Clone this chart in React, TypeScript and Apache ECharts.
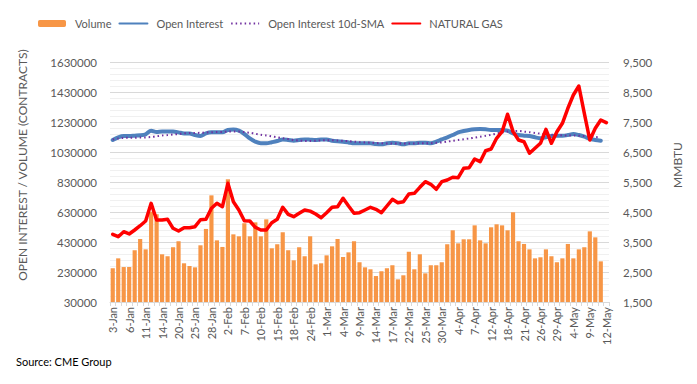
import React, { useEffect, useRef } from "react";
import * as echarts from "echarts";

const dates = [
  "3-Jan","4-Jan","5-Jan","6-Jan","7-Jan","10-Jan","11-Jan","12-Jan","13-Jan","14-Jan","18-Jan","19-Jan","20-Jan","21-Jan","24-Jan","25-Jan","26-Jan","27-Jan","28-Jan","31-Jan",
  "1-Feb","2-Feb","3-Feb","4-Feb","7-Feb","8-Feb","9-Feb","10-Feb","11-Feb","14-Feb","15-Feb","16-Feb","17-Feb","18-Feb","22-Feb","23-Feb","24-Feb","25-Feb","28-Feb",
  "1-Mar","2-Mar","3-Mar","4-Mar","7-Mar","8-Mar","9-Mar","10-Mar","11-Mar","14-Mar","15-Mar","16-Mar","17-Mar","18-Mar","21-Mar","22-Mar","23-Mar","24-Mar","25-Mar","28-Mar","29-Mar","30-Mar","31-Mar",
  "1-Apr","4-Apr","5-Apr","6-Apr","7-Apr","8-Apr","11-Apr","12-Apr","13-Apr","14-Apr","18-Apr","19-Apr","20-Apr","21-Apr","22-Apr","25-Apr","26-Apr","27-Apr","28-Apr","29-Apr",
  "2-May","3-May","4-May","5-May","6-May","9-May","10-May","11-May","12-May"
];

const volume = [
  255000, 321000, 263000, 263000, 375000, 450000, 381000, 632000, 615000, 348000,
  335000, 395000, 435000, 288000, 270000, 261000, 408000, 517000, 741000, 441000,
  397000, 848000, 481000, 468000, 555000, 468000, 561000, 468000, 581000, 388000,
  415000, 495000, 375000, 308000, 395000, 335000, 468000, 281000, 288000, 341000,
  401000, 450000, 330000, 361000, 435000, 295000, 261000, 248000, 203000, 235000,
  255000, 275000, 181000, 208000, 365000, 248000, 348000, 221000, 275000, 275000,
  295000, 415000, 508000, 421000, 448000, 448000, 541000, 441000, 421000, 528000,
  548000, 541000, 508000, 628000, 435000, 417000, 381000, 321000, 328000, 381000,
  335000, 295000, 321000, 417000, 321000, 381000, 395000, 501000, 461000, 301000,
  null
];

const openInterest = [
  1110000, 1128000, 1137000, 1137000, 1139000, 1141000, 1148000, 1172000, 1163000, 1166000,
  1166000, 1166000, 1161000, 1154000, 1154000, 1143000, 1137000, 1154000, 1161000, 1161000,
  1161000, 1177000, 1180000, 1172000, 1150000, 1121000, 1099000, 1088000, 1088000, 1095000,
  1103000, 1114000, 1110000, 1105000, 1110000, 1114000, 1112000, 1110000, 1114000, 1114000,
  1105000, 1101000, 1099000, 1094000, 1088000, 1088000, 1088000, 1088000, 1083000, 1081000,
  1088000, 1092000, 1088000, 1081000, 1088000, 1088000, 1092000, 1092000, 1088000, 1099000,
  1114000, 1128000, 1143000, 1161000, 1170000, 1177000, 1181000, 1183000, 1181000, 1177000,
  1177000, 1177000, 1172000, 1154000, 1143000, 1139000, 1137000, 1128000, 1121000, 1128000,
  1137000, 1139000, 1139000, 1143000, 1150000, 1143000, 1132000, 1117000, 1110000, 1105000,
  null
];

const openInterestSma = [
  1114000, 1120000, 1124000, 1125000, 1125000, 1126000, 1127000, 1130000, 1135000, 1140000,
  1143000, 1147000, 1150000, 1154000, 1156000, 1157000, 1158000, 1160000, 1162000, 1163000,
  1164000, 1166000, 1166000, 1166000, 1163000, 1158000, 1152000, 1145000, 1140000, 1134000,
  1128000, 1122000, 1116000, 1110000, 1106000, 1104000, 1104000, 1105000, 1107000, 1108000,
  1108000, 1107000, 1105000, 1102000, 1099000, 1096000, 1094000, 1092000, 1090000, 1088000,
  1087000, 1086000, 1086000, 1086000, 1086000, 1087000, 1088000, 1088000, 1089000, 1091000,
  1094000, 1099000, 1105000, 1110000, 1115000, 1120000, 1126000, 1132000, 1138000, 1145000,
  1153000, 1160000, 1166000, 1170000, 1170000, 1166000, 1162000, 1157000, 1152000, 1148000,
  1145000, 1142000, 1141000, 1140000, 1140000, 1139000, 1136000, 1133000, 1130000, 1128000,
  null
];

const naturalGas = [
  3757, 3677, 3843, 3767, 3900, 4043, 4200, 4790, 4233, 4233,
  4257, 3957, 3867, 3977, 3977, 4010, 4243, 4257, 4623, 4790,
  4677, 5457, 4843, 4567, 4210, 4200, 3990, 3900, 3900, 4143,
  4257, 4657, 4423, 4343, 4457, 4567, 4530, 4433, 4310, 4477,
  4657, 4677, 4957, 4700, 4457, 4477, 4567, 4657, 4590, 4477,
  4700, 4923, 4810, 4843, 5100, 5123, 5323, 5510, 5423, 5257,
  5510, 5567, 5657, 5643, 5957, 5977, 6267, 6177, 6543, 6600,
  6957, 7177, 7760, 7180, 6900, 6843, 6457, 6623, 6790, 7257,
  6790, 7177, 7457, 7957, 8400, 8700, 7790, 6900, 7290, 7567,
  7477
];

const FONT = "Lato";
const GREY = "#595959";

export default function App() {
  const ref = useRef<HTMLDivElement>(null);
  useEffect(() => {
    if (!ref.current) return;
    const chart = echarts.init(ref.current, null, { renderer: "svg" });
    chart.setOption({
      animation: false,
      textStyle: { fontFamily: FONT },
      grid: { left: 110, right: 88, top: 62, bottom: 82, containLabel: false },
      legend: {
        left: 38,
        top: 18,
        padding: 0,
        itemWidth: 28,
        itemHeight: 7,
        itemGap: 7,
        textStyle: { color: GREY, fontSize: 11, fontFamily: FONT, padding: [0, 0, 0, 4] },
        data: [
          { name: "Volume" },
          { name: "Open Interest", itemStyle: { opacity: 0 } },
          { name: "Open Interest 10d-SMA", itemStyle: { opacity: 0 } },
          { name: "NATURAL GAS", itemStyle: { opacity: 0 } },
        ],
      },
      xAxis: {
        type: "category",
        data: dates,
        boundaryGap: true,
        axisLine: { lineStyle: { color: "#D9D9D9" } },
        axisTick: { show: true, interval: 0, length: 4, lineStyle: { color: "#D9D9D9" } },
        axisLabel: { interval: 2, rotate: 90, color: GREY, fontSize: 11, fontFamily: FONT, margin: 5 },
      },
      yAxis: [
        {
          type: "value",
          min: 30000,
          max: 1630000,
          interval: 200000,
          axisLine: { show: false },
          axisTick: { show: false },
          axisLabel: {
            color: GREY,
            fontSize: 11.5,
            fontFamily: FONT,
            margin: 13,
            formatter: (v: number) => String(v),
          },
          splitLine: { lineStyle: { color: "#D9D9D9", width: 1 } },
          minorTick: { show: false, splitNumber: 5 },
          minorSplitLine: { show: true, lineStyle: { color: "#F0F0F0", width: 1 } },
        },
        {
          type: "value",
          min: 1500,
          max: 9500,
          interval: 1000,
          axisLine: { show: false },
          axisTick: { show: false },
          splitLine: { show: false },
          axisLabel: {
            color: GREY,
            fontSize: 11.5,
            fontFamily: FONT,
            margin: 14,
            formatter: (v: number) => v.toLocaleString("en-US"),
          },
        },
      ],
      series: [
        {
          name: "Volume",
          type: "bar",
          data: volume,
          yAxisIndex: 0,
          barCategoryGap: "24%",
          itemStyle: { color: "#F79646" },
          z: 1,
        },
        {
          name: "Open Interest",
          type: "line",
          data: openInterest,
          yAxisIndex: 0,
          symbol: "none",
          smooth: 0.3,
          lineStyle: { color: "#4F81BD", width: 4, cap: "round" },
          itemStyle: { color: "#4F81BD" },
          z: 2,
        },
        {
          name: "Open Interest 10d-SMA",
          type: "line",
          data: openInterestSma,
          yAxisIndex: 0,
          symbol: "none",
          smooth: 0.3,
          lineStyle: { color: "#7030A0", width: 2, type: [1.5, 3] },
          itemStyle: { color: "#7030A0" },
          z: 3,
        },
        {
          name: "NATURAL GAS",
          type: "line",
          data: naturalGas,
          yAxisIndex: 1,
          symbol: "none",
          lineStyle: { color: "#FF0000", width: 3.5, cap: "round", join: "round" },
          itemStyle: { color: "#FF0000" },
          z: 4,
        },
      ],
      graphic: [
        {
          type: "text",
          x: 22,
          y: 165,
          rotation: Math.PI / 2,
          style: {
            text: "OPEN INTEREST / VOLUME (CONTRACTS)",
            fill: GREY,
            fontSize: 12,
            fontFamily: FONT,
            align: "center",
            verticalAlign: "middle",
          },
        },
        {
          type: "text",
          x: 677,
          y: 165,
          rotation: Math.PI / 2,
          style: {
            text: "MMBTU",
            fill: GREY,
            fontSize: 12,
            fontFamily: FONT,
            align: "center",
            verticalAlign: "middle",
          },
        },
        {
          type: "text",
          left: 16,
          top: 356,
          style: {
            text: "Source: CME Group",
            fill: "#000000",
            fontSize: 11,
            fontFamily: FONT,
          },
        },
      ],
    });
    return () => chart.dispose();
  }, []);
  return (
    <div
      ref={ref}
      style={{ position: "fixed", left: 0, top: 0, width: 697, height: 384, background: "#fff" }}
    />
  );
}
